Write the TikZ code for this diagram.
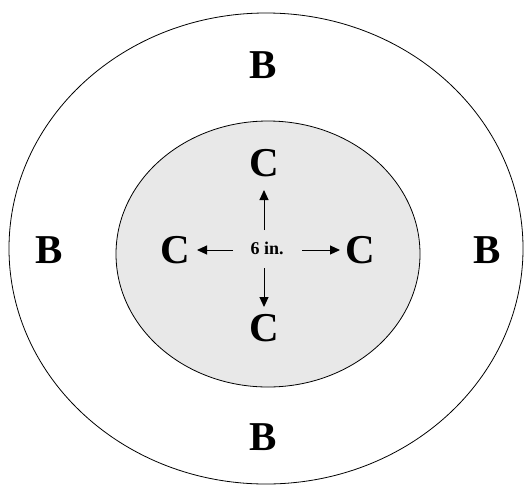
\documentclass[tikz,border=0pt]{standalone}
\usepackage{fontspec}
\setmainfont{Liberation Serif}
\usetikzlibrary{arrows.meta}
\begin{document}
\begin{tikzpicture}[x=1pt,y=-1pt,
  big/.style={font=\fontsize{41}{41}\selectfont\bfseries, inner sep=0pt},
  small/.style={font=\fontsize{18}{18}\selectfont\bfseries, inner sep=0pt},
  arr/.style={line width=1pt, -{Triangle[length=10pt,width=9pt]}},
  ring/.style={draw=black, line width=0.8pt}]
\useasboundingbox (0,0) rectangle (526,485);
\draw[ring] (266,248.5) ellipse [x radius=257, y radius=235.5];
\draw[ring, fill=black!9] (268,254) ellipse [x radius=152, y radius=133];
\node[big] (bt) at (263,65) {B};
\node[big] (bb) at (263,437) {B};
\node[big] (bl) at (49,250) {B};
\node[big] (br) at (487,250) {B};
\node[big] (ct) at (264,163) {C};
\node[big] (cb) at (264,328) {C};
\node[big] (cl) at (175,250) {C};
\node[big] (cr) at (360,250) {C};
\node[small] (six) at (267,248) {6 in.};
\draw[arr, shorten <=18pt, shorten >=27pt] (ct.center |- six.center) -- (ct.center);
\draw[arr, shorten <=20pt, shorten >=21pt] (cb.center |- six.center) -- (cb.center);
\draw[arr, shorten <=34pt, shorten >=22pt] (cl.center -| six.center) -- (cl.center);
\draw[arr, shorten <=35pt, shorten >=20pt] (cr.center -| six.center) -- (cr.center);
\end{tikzpicture}
\end{document}
